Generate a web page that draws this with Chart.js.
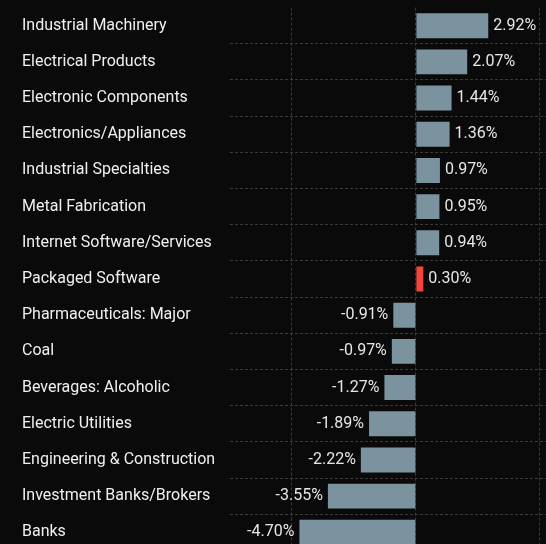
<!DOCTYPE html>
<html>
<head>
<meta charset="utf-8">
<script src="https://cdn.jsdelivr.net/npm/chart.js@4"></script>
<style>
  html, body { margin:0; padding:0; background:#0a0a0a; overflow:hidden; }
  #wrap { position:relative; top:-2px; width:546px; height:562px; }
</style>
</head>
<body>
<div id="wrap"><canvas id="c"></canvas></div>
<script>
const categories = ["Industrial Machinery","Electrical Products","Electronic Components","Electronics/Appliances","Industrial Specialties","Metal Fabrication","Internet Software/Services","Packaged Software","Pharmaceuticals: Major","Coal","Beverages: Alcoholic","Electric Utilities","Engineering & Construction","Investment Banks/Brokers","Banks"];
const values = [2.92, 2.07, 1.44, 1.36, 0.97, 0.95, 0.94, 0.30, -0.91, -0.97, -1.27, -1.89, -2.22, -3.55, -4.70];
const highlight = "Packaged Software";
const xTicks = [-5, 0, 5];

const FONT = "Roboto";
const valueLabels = {
  id: 'valueLabels',
  afterDatasetsDraw(chart) {
    const ctx = chart.ctx;
    const meta = chart.getDatasetMeta(0);
    ctx.save();
    ctx.font = "16px " + FONT;
    ctx.fillStyle = "#e6e6e6";
    ctx.textBaseline = "middle";
    meta.data.forEach((bar, i) => {
      const v = values[i];
      const txt = v.toFixed(2) + "%";
      if (v >= 0) { ctx.textAlign = "left"; ctx.fillText(txt, bar.x + 5, bar.y); }
      else { ctx.textAlign = "right"; ctx.fillText(txt, bar.x - 5, bar.y); }
    });
    ctx.restore();
  }
};

new Chart(document.getElementById('c'), {
  type: 'bar',
  data: {
    labels: categories,
    datasets: [{
      data: values,
      backgroundColor: categories.map(c => c === highlight ? "#f2453b" : "#7b939e"),
      barPercentage: 0.69,
      categoryPercentage: 1.0,
      borderWidth: 0
    }]
  },
  options: {
    indexAxis: 'y',
    responsive: true,
    maintainAspectRatio: false,
    animation: false,
    layout: { padding: { left: 22, top: 4, bottom: 1, right: 0 } },
    plugins: { legend: { display: false }, tooltip: { enabled: false } },
    scales: {
      x: {
        min: -7.5, max: 5.25,
        afterBuildTicks(scale) { scale.ticks = xTicks.map(v => ({ value: v })); },
        afterFit(scale) { scale.height = 0; },
        ticks: { display: false },
        border: { display: false, dash: [3, 2] },
        grid: { color: "#3a3a3a", lineWidth: 1, drawTicks: false }
      },
      y: {
        afterFit(scale) { scale.width = 208; },
        border: { display: false, dash: [3, 2] },
        ticks: { crossAlign: 'far', color: "#f0f0f0", font: { family: FONT, size: 16 }, padding: 0 },
        grid: {
          offset: true,
          drawTicks: false,
          color: (ctx) => ctx.index === 0 ? "rgba(0,0,0,0)" : "#3a3a3a"
        }
      }
    }
  },
  plugins: [valueLabels]
});
</script>
</body>
</html>
